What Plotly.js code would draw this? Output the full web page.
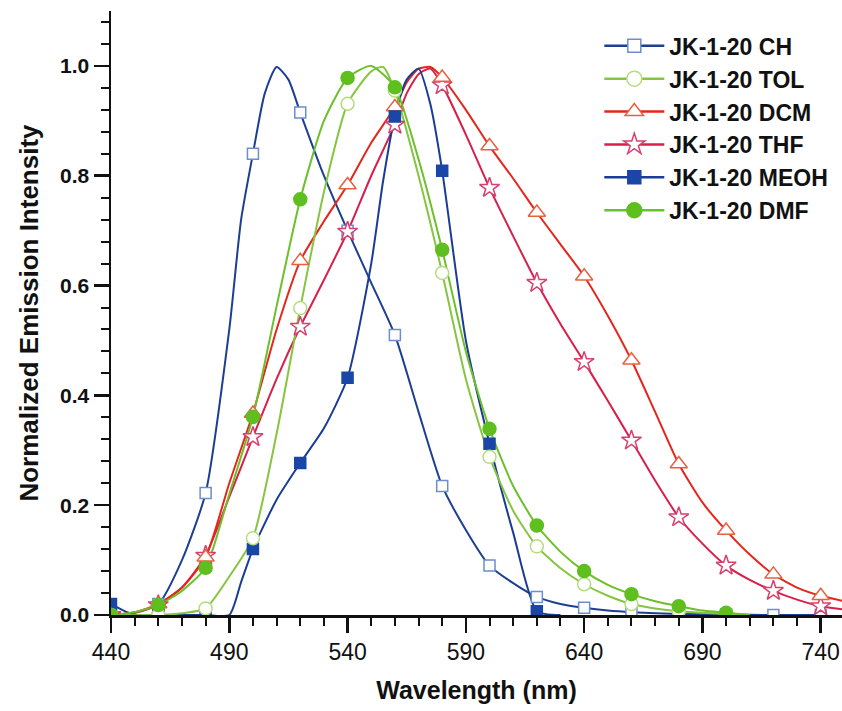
<!DOCTYPE html>
<html><head><meta charset="utf-8">
<script src="https://cdn.plot.ly/plotly-3.0.1.min.js"></script>
<style>html,body{margin:0;padding:0;background:#fff}</style>
</head><body><div id="chart" style="width:842px;height:711px"></div>
<script>
// Wavelength (nm) and normalized intensities
const wlCH   = [440,450,460,470,480,490,495,500,505,510,515,520,530,540,550,560,570,580,590,600,610,620,630,640,650,660,680,700,720,740];
const valCH  = [0.0,0.004,0.02,0.10,0.222,0.52,0.72,0.84,0.95,0.998,0.975,0.915,0.80,0.70,0.605,0.51,0.37,0.235,0.155,0.09,0.058,0.033,0.02,0.013,0.008,0.005,0.002,0.001,0.0,0.0];

const wlTOL  = [440,460,470,480,490,500,510,520,530,540,550,555,560,570,580,590,600,610,620,630,640,650,660,670,680,700,710];
const valTOL = [0.0,0.0,0.003,0.012,0.07,0.14,0.33,0.559,0.77,0.931,0.99,0.998,0.955,0.80,0.623,0.43,0.288,0.19,0.125,0.085,0.056,0.035,0.02,0.012,0.007,0.002,0.0];

const wlDCM  = [440,450,460,470,480,490,500,510,520,530,540,550,560,565,570,575,580,590,600,610,620,630,640,650,660,670,680,690,700,710,720,730,740,750];
const valDCM = [0.0,0.005,0.02,0.05,0.105,0.24,0.367,0.52,0.645,0.717,0.783,0.86,0.925,0.97,0.995,0.998,0.979,0.92,0.854,0.795,0.733,0.675,0.617,0.545,0.464,0.37,0.275,0.205,0.154,0.11,0.074,0.05,0.035,0.025];

const wlTHF  = [440,450,460,470,480,490,500,510,520,530,540,550,560,565,570,575,580,590,600,610,620,630,640,650,660,670,680,690,700,710,720,730,740,750];
const valTHF = [0.0,0.004,0.018,0.05,0.108,0.215,0.324,0.43,0.525,0.61,0.698,0.80,0.893,0.95,0.985,0.995,0.965,0.875,0.778,0.69,0.605,0.53,0.461,0.39,0.318,0.245,0.178,0.13,0.09,0.064,0.044,0.028,0.016,0.01];

const wlMEOH  = [440,450,460,480,490,495,500,510,520,530,540,550,555,560,565,570,575,580,590,600,610,620,630];
const valMEOH = [0.02,0.0,0.0,0.0,0.0,0.06,0.12,0.21,0.277,0.34,0.432,0.64,0.79,0.908,0.975,0.995,0.93,0.809,0.50,0.312,0.15,0.007,0.0];

const wlDMF  = [440,450,460,470,480,490,500,510,520,530,540,550,560,570,580,590,600,610,620,630,640,650,660,670,680,690,700,710];
const valDMF = [0.0,0.005,0.018,0.044,0.086,0.22,0.361,0.562,0.757,0.90,0.978,1.0,0.961,0.83,0.665,0.48,0.339,0.235,0.163,0.115,0.08,0.055,0.038,0.025,0.016,0.008,0.004,0.0];

const seriesNames = ['JK-1-20 CH','JK-1-20 TOL','JK-1-20 DCM','JK-1-20 THF','JK-1-20 MEOH','JK-1-20 DMF'];
const xTicks = [440,490,540,590,640,690,740];

const styles = [
  {x: wlCH,   y: valCH,   line:'#1d3f92', sym:'square',      size:11, fill:'#ffffff', edge:'#6b8fcc'},
  {x: wlTOL,  y: valTOL,  line:'#86c540', sym:'circle',      size:13, fill:'#ffffff', edge:'#b6dc80'},
  {x: wlDCM,  y: valDCM,  line:'#e5261c', sym:'triangle-up', size:15, fill:'#ffffff', edge:'#e8603e'},
  {x: wlTHF,  y: valTHF,  line:'#d81f4a', sym:'star',        size:15, fill:'#ffffff', edge:'#d8406e'},
  {x: wlMEOH, y: valMEOH, line:'#1a3c96', sym:'square',      size:11, fill:'#1a46a8', edge:'#1a46a8'},
  {x: wlDMF,  y: valDMF,  line:'#6cc02a', sym:'circle',      size:13, fill:'#5ebf1f', edge:'#5ebf1f'}
];

const drawOrder = [0,3,2,4,1,5];
const traces = [];
drawOrder.forEach(i => {
  const s = styles[i];
  traces.push({x: s.x, y: s.y, type:'scatter', mode:'lines', showlegend:false, hoverinfo:'skip',
    line:{color:s.line, width:2, shape:'spline', smoothing:0.6}});
});
drawOrder.forEach(i => {
  const s = styles[i];
  const mx = [], my = [];
  s.x.forEach((v, k) => { if ((v - 440) % 20 === 0) { mx.push(v); my.push(s.y[k]); } });
  traces.push({x: mx, y: my, type:'scatter', mode:'markers', showlegend:false,
    marker:{symbol:s.sym, size:s.size, color:s.fill, line:{color:s.edge, width:1.5}}});
});
styles.forEach((s, i) => {
  traces.push({x:[null], y:[null], type:'scatter', mode:'lines+markers', name: seriesNames[i], showlegend:true,
    line:{color:s.line, width:2.5},
    marker:{symbol:s.sym, size:s.size+2, color:s.fill, line:{color:s.edge, width:1.5}}});
});

const axisFont = 'Liberation Sans, Arial, sans-serif';

const layout = {
  width: 842, height: 711,
  margin: {l:111, r:0, t:11, b:96},
  paper_bgcolor:'#ffffff', plot_bgcolor:'#ffffff',
  showlegend: true,
  legend: {x:0.668, y:0.978, xanchor:'left', yanchor:'top', bgcolor:'rgba(0,0,0,0)',
    itemwidth: 60, font:{family:axisFont, size:23, color:'#111', weight:'bold'}, tracegroupgap:0},
  xaxis: {
    range:[440, 749], tickmode:'array', tickvals: xTicks, ticktext: xTicks.map(String),
    ticks:'outside', ticklen:15, tickwidth:2.5, tickcolor:'#111',
    showline:true, linewidth:2.5, linecolor:'#111', showgrid:false, zeroline:false,
    minor:{dtick:10, tick0:440, ticks:'outside', ticklen:8, tickwidth:2, tickcolor:'#111', showgrid:false},
    tickfont:{family:axisFont, size:23, color:'#111'},
    title:{text:'Wavelength (nm)', font:{family:axisFont, size:25, color:'#111', weight:'bold'}, standoff:18}
  },
  yaxis: {
    range:[0, 1.1], tick0:0, dtick:0.2, tickformat:'.1f',
    ticks:'outside', ticklen:15, tickwidth:2.5, tickcolor:'#111',
    showline:true, linewidth:2.5, linecolor:'#111', showgrid:false, zeroline:false,
    minor:{dtick:0.04, tick0:0, ticks:'outside', ticklen:8, tickwidth:2, tickcolor:'#111', showgrid:false},
    tickfont:{family:axisFont, size:21, color:'#111', weight:'bold'},
    title:{text:'Normalized Emission Intensity', font:{family:axisFont, size:26, color:'#111', weight:'bold'}, standoff:14}
  }
};

Plotly.newPlot('chart', traces, layout, {displayModeBar:false, staticPlot:true});
</script>
</body></html>
